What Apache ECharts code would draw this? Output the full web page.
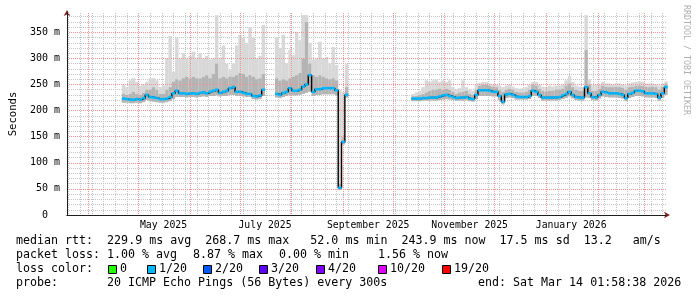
<!DOCTYPE html>
<html><head><meta charset="utf-8">
<script src="https://cdn.jsdelivr.net/npm/echarts@6/dist/echarts.min.js"></script>
<style>html,body{margin:0;padding:0;background:#fff}#c{width:697px;height:297px}</style>
</head><body><div id="c"></div>
<script>
// ---- data ----
const startDate = [2025, 2, 19];   // 2025-03-19 (UTC)
const totalDays = 360;
const stepDays = 2;               // one sample every 2 days
const yTickStep = 50;
const yMinorStep = 10;
const yMax = 387;
const xTickLabels = ['May 2025', 'July 2025', 'September 2025', 'November 2025', 'January 2026'];
const monthNames = ['January','February','March','April','May','June','July','August','September','October','November','December'];

const median = [
null,null,null,null,null,null,null,null,null,null,null,null,null,null,null,null,null,
223,222,221,221,222,221,224,230,226,225,224,222,222,223,226,233,238,233,233,232,233,233,232,234,235,233,236,238,240,234,236,238,243,245,236,236,234,232,232,228,227,229,240,
null,null,null,
232,230,234,236,243,238,238,240,246,250,268,236,241,241,243,243,243,243,239,52,140,230,
null,null,null,null,null,null,null,null,null,null,null,null,null,null,null,null,null,null,null,
223,223,223,224,224,225,225,225,227,229,230,228,226,224,225,225,226,223,222,230,239,239,239,238,236,236,228,217,231,232,230,227,226,226,226,228,238,236,230,225,225,225,225,225,226,229,232,236,230,226,225,225,245,233,226,225,230,236,235,233,233,233,232,230,224,232,234,238,238,237,233,233,233,232,225,233,245
];
const smokeMin = [
null,null,null,null,null,null,null,null,null,null,null,null,null,null,null,null,null,
215,215,214,214,215,214,216,220,218,217,216,215,215,216,218,222,226,226,226,225,226,226,225,226,227,226,228,228,229,227,228,228,230,230,228,228,227,226,226,222,221,222,228,
null,null,null,
225,224,226,228,230,229,229,230,232,234,236,228,230,230,231,231,231,231,230,48,135,225,
null,null,null,null,null,null,null,null,null,null,null,null,null,null,null,null,null,null,null,
218,218,218,219,219,219,219,219,220,221,222,221,220,219,219,219,220,218,217,222,228,228,228,228,227,227,220,212,224,225,224,221,221,221,221,222,228,228,224,219,219,219,219,219,220,222,224,227,223,220,219,219,225,224,220,219,223,227,226,225,225,225,224,223,218,224,226,228,228,227,225,225,225,224,219,224,230
];
const smokeMid = [
null,null,null,null,null,null,null,null,null,null,null,null,null,null,null,null,null,
232,230,232,236,232,230,234,240,240,245,240,232,232,240,245,255,260,258,262,265,262,265,262,262,265,268,262,270,290,262,265,262,265,265,268,272,270,265,268,265,260,262,270,
null,null,null,
262,258,260,258,262,265,268,272,300,370,290,268,265,268,265,262,260,262,258,60,150,245,
null,null,null,null,null,null,null,null,null,null,null,null,null,null,null,null,null,null,null,
228,228,230,232,235,238,240,240,242,240,242,240,236,232,235,236,238,232,230,240,248,250,250,248,246,245,240,236,240,242,240,236,235,235,236,240,250,248,242,238,236,238,238,240,240,242,248,252,245,240,238,238,316,250,238,238,242,248,246,245,245,246,245,244,240,245,246,248,248,247,246,245,246,245,240,245,252
];
const smokeMax = [
null,null,null,null,null,null,null,null,null,null,null,null,null,null,null,null,null,
250,245,258,262,255,248,250,255,262,262,258,245,248,300,343,274,340,300,310,300,305,313,300,310,300,305,298,300,383,300,325,290,278,290,325,345,340,330,360,340,300,305,364,
null,null,null,
341,320,345,291,316,306,351,335,383,383,329,297,300,332,300,303,290,322,287,240,235,289,
null,null,null,null,null,null,null,null,null,null,null,null,null,null,null,null,null,null,null,
232,235,238,245,258,255,258,260,255,258,255,258,245,240,243,258,245,240,238,250,253,255,255,252,250,250,248,245,248,250,246,243,242,243,245,250,255,255,250,246,245,248,246,248,248,250,258,266,255,248,246,245,383,260,248,250,250,255,252,252,250,252,252,250,248,252,254,255,256,255,252,252,252,250,248,252,256
];

const lossLegend = ['0', '1/20', '2/20', '3/20', '4/20', '10/20', '19/20'];
const lossColors = ['#26ff00', '#00b8ff', '#0059ff', '#5e00ff', '#7e00ff', '#dd00ff', '#ff0000'];

const statLine1 = 'median rtt:  229.9 ms avg  268.7 ms max   52.0 ms min  243.9 ms now  17.5 ms sd  13.2   am/s';
const lossStats = ['1.00 % avg', '8.87 % max', '0.00 % min', '1.56 % now'];
const probeText = '20 ICMP Echo Pings (56 Bytes) every 300s';
const endText = 'end: Sat Mar 14 01:58:38 2026';

// ---- build ----
const dayCats = [];
for (let k = 0; k <= totalDays; k++) {
  const d = new Date(Date.UTC(startDate[0], startDate[1], startDate[2] + k));
  dayCats.push(d.toISOString().slice(0, 10));
}
const parseDay = s => new Date(s + 'T00:00:00Z');

const smokeRows = [], medData = [], medRows = [];
for (let i = 0; i < median.length; i++) {
  const x = i * stepDays;
  if (smokeMin[i] != null) smokeRows.push([x, smokeMin[i], smokeMid[i], smokeMax[i]]);
  medData.push([x, median[i]]);
  if (median[i] != null) medRows.push([x, median[i]]);
}

const MONO = 'DejaVu Sans Mono';
const chart = echarts.init(document.getElementById('c'), null, {renderer: 'canvas'});

const graphics = [];
const legendY = [241, 255, 269, 283];
const F = `11.65px "${MONO}"`;
graphics.push({type: 'text', x: 16, y: legendY[0], style: {text: statLine1, font: F, fill: '#000', textVerticalAlign: 'middle'}});
graphics.push({type: 'text', x: 16, y: legendY[1], style: {text: 'packet loss:', font: F, fill: '#000', textVerticalAlign: 'middle'}});
const lossX = [107, 193, 279, 378];
lossStats.forEach((t, k) => graphics.push({type: 'text', x: lossX[k], y: legendY[1], style: {text: t, font: F, fill: '#000', textVerticalAlign: 'middle'}}));
graphics.push({type: 'text', x: 16, y: legendY[2], style: {text: 'loss color:', font: F, fill: '#000', textVerticalAlign: 'middle'}});
const boxX = [108, 147, 203, 259, 316, 378, 442];
lossLegend.forEach((t, k) => {
  graphics.push({type: 'rect', shape: {x: boxX[k] + 0.5, y: 265.5, width: 8, height: 8}, style: {fill: lossColors[k], stroke: '#000', lineWidth: 1}});
  graphics.push({type: 'text', x: boxX[k] + 12, y: legendY[2], style: {text: t, font: F, fill: '#000', textVerticalAlign: 'middle'}});
});
graphics.push({type: 'text', x: 16, y: legendY[3], style: {text: 'probe:', font: F, fill: '#000', textVerticalAlign: 'middle'}});
graphics.push({type: 'text', x: 107, y: legendY[3], style: {text: probeText, font: F, fill: '#000', textVerticalAlign: 'middle'}});
graphics.push({type: 'text', x: 478, y: legendY[3], style: {text: endText, font: F, fill: '#000', textVerticalAlign: 'middle'}});
graphics.push({type: 'text', x: 686, y: 5, rotation: -Math.PI / 2, style: {text: 'RRDTOOL / TOBI OETIKER', font: `8.3px "${MONO}"`, fill: '#b0b0b0', textVerticalAlign: 'middle', textAlign: 'left'}});

const GRID_MAJOR = '#eb9595';
const GRID_MINOR = '#c4c4c4';

const option = {
  animation: false,
  backgroundColor: '#fff',
  grid: {left: 67, right: 31, top: 13, bottom: 82, containLabel: false},
  xAxis: [
    { // 0: data axis (days since start), black axis line
      type: 'value', position: 'bottom', min: 0, max: totalDays, z: 3,
      axisLine: {show: true, onZero: false, lineStyle: {color: '#1f1f1f', width: 1}},
      axisTick: {show: false}, axisLabel: {show: false}, splitLine: {show: false}
    },
    { // 1: month grid + labels
      type: 'category', position: 'bottom', data: dayCats, boundaryGap: false, z: 2,
      axisLine: {show: false, onZero: false}, axisTick: {show: false},
      axisLabel: {
        show: true, margin: 5, color: '#000', fontFamily: MONO, fontSize: 9.8,
        interval: (idx, val) => { const d = parseDay(val); return d.getUTCDate() === 16 && d.getUTCMonth() % 2 === 0; },
        formatter: (val) => { const d = parseDay(val); const s = monthNames[d.getUTCMonth()] + ' ' + d.getUTCFullYear(); return xTickLabels.includes(s) ? s : ''; }
      },
      splitLine: {show: true, interval: (idx, val) => parseDay(val).getUTCDate() === 1,
        lineStyle: {color: GRID_MAJOR, type: [1, 1], width: 1}}
    },
    { // 2: weekly minor grid
      type: 'category', position: 'bottom', data: dayCats, boundaryGap: false, z: 1,
      axisLine: {show: false, onZero: false}, axisTick: {show: false}, axisLabel: {show: false},
      splitLine: {show: true, interval: (idx, val) => parseDay(val).getUTCDay() === 4 && parseDay(val).getUTCDate() !== 1,
        lineStyle: {color: GRID_MINOR, type: [1, 1], width: 1}}
    },
    { // 3: arrow
      type: 'value', position: 'bottom', min: 0, max: totalDays, z: 0,
      axisLine: {show: true, onZero: false, symbol: ['none', 'arrow'], symbolSize: [5, 6], symbolOffset: [0, 4], lineStyle: {color: '#801f1f', width: 1}},
      axisTick: {show: false}, axisLabel: {show: false}, splitLine: {show: false}
    }
  ],
  yAxis: [
    { // 0: major
      type: 'value', position: 'left', min: 0, max: yMax, interval: yTickStep, z: 3,
      name: 'Seconds', nameLocation: 'middle', nameGap: 48, nameRotate: 90,
      nameTextStyle: {fontFamily: MONO, fontSize: 10.6, color: '#000'},
      axisLine: {show: true, onZero: false, lineStyle: {color: '#1f1f1f', width: 1}},
      axisTick: {show: false},
      axisLabel: {show: true, margin: 7, color: '#000', fontFamily: MONO, fontSize: 10, showMaxLabel: false,
        formatter: v => v === 0 ? '0  ' : (v + ' m')},
      splitLine: {show: true, showMinLine: false, showMaxLine: false, lineStyle: {color: GRID_MAJOR, type: [1, 1], width: 1}}
    },
    { // 1: minor
      type: 'value', position: 'left', min: 0, max: yMax, interval: yMinorStep, z: 1,
      axisLine: {show: false, onZero: false}, axisTick: {show: false}, axisLabel: {show: false},
      splitLine: {show: true, showMinLine: false, showMaxLine: false, lineStyle: {color: GRID_MINOR, type: [1, 1], width: 1}}
    },
    { // 2: arrow
      type: 'value', position: 'left', min: 0, max: yMax, z: 0,
      axisLine: {show: true, onZero: false, symbol: ['none', 'arrow'], symbolSize: [5, 6], symbolOffset: [0, 3], lineStyle: {color: '#801f1f', width: 1}},
      axisTick: {show: false}, axisLabel: {show: false}, splitLine: {show: false}
    }
  ],
  graphic: graphics,
  series: [
    {
      type: 'custom', name: 'smoke', data: smokeRows, z: 1, silent: true,
      encode: {x: 0, y: [1, 2, 3]},
      renderItem: (params, api) => {
        const x = api.value(0);
        const pLo = api.coord([x, api.value(1)]);
        const pMid = api.coord([x, api.value(2)]);
        const pHi = api.coord([x, api.value(3)]);
        const w = api.size([stepDays, 0])[0] + 0.1;
        const left = pLo[0] - w / 2;
        return {type: 'group', children: [
          {type: 'rect', shape: {x: left, y: pHi[1], width: w, height: pMid[1] - pHi[1]}, style: {fill: '#d8d8d8'}},
          {type: 'rect', shape: {x: left, y: pMid[1], width: w, height: pLo[1] - pMid[1]}, style: {fill: '#b4b4b4'}}
        ]};
      }
    },
    {type: 'line', name: 'medianLink', data: medData, step: 'middle', showSymbol: false, z: 5, silent: true,
      lineStyle: {color: '#000', width: 1.4}},
    {
      type: 'custom', name: 'median', data: medRows, z: 6, silent: true,
      encode: {x: 0, y: 1},
      renderItem: (params, api) => {
        const p = api.coord([api.value(0), api.value(1)]);
        const w = api.size([stepDays, 0])[0] + 0.1;
        return {type: 'rect', shape: {x: p[0] - w / 2, y: p[1] - 1.3, width: w, height: 2.6}, style: {fill: '#00b8ff'}};
      }
    }
  ]
};
chart.setOption(option);
</script>
</body></html>
